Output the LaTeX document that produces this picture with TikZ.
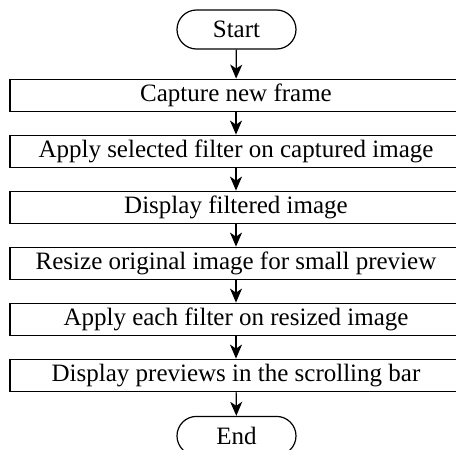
\documentclass[tikz,border=0pt]{standalone}
\usepackage{fontspec}
\setmainfont{Liberation Serif}
\usetikzlibrary{positioning,shapes.misc,arrows.meta}

\tikzset{
  terminal/.style={draw, rounded rectangle, line width=1.2pt,
    minimum width=119pt, minimum height=39pt, inner sep=0pt},
  stepbox/.style={draw, rectangle, line width=1.2pt,
    minimum width=452pt, minimum height=32pt, inner sep=0pt},
  flow/.style={-{Stealth[length=14pt,width=12pt,inset=4pt]}, line width=1.2pt}
}

\begin{document}
\begin{tikzpicture}[font=\fontsize{25}{29}\selectfont]
  \useasboundingbox (0,0) rectangle (456pt,-450pt);
  \clip (0,0) rectangle (456pt,-450pt);

  \node[terminal] (start) at (236.5pt,-29.5pt) {Start};
  \node[stepbox, below=29pt of start, xshift=-0.5pt] (capture) {Capture new frame};
  \node[stepbox, below=22.8pt of capture] (apply) {Apply selected filter on captured image};
  \node[stepbox, below=22.8pt of apply] (display) {Display filtered image};
  \node[stepbox, below=22.8pt of display] (resize) {Resize original image for small preview};
  \node[stepbox, below=22.8pt of resize] (each) {Apply each filter on resized image};
  \node[stepbox, below=22.8pt of each] (previews) {Display previews in the scrolling bar};
  \node[terminal, below=24pt of previews, xshift=0.5pt] (end) {End};

  % connectors
  \foreach \a/\b in {start/capture, capture/apply, apply/display,
                     display/resize, resize/each, each/previews, previews/end}
    \draw[flow] (\a) -- (\b);

\end{tikzpicture}
\end{document}
